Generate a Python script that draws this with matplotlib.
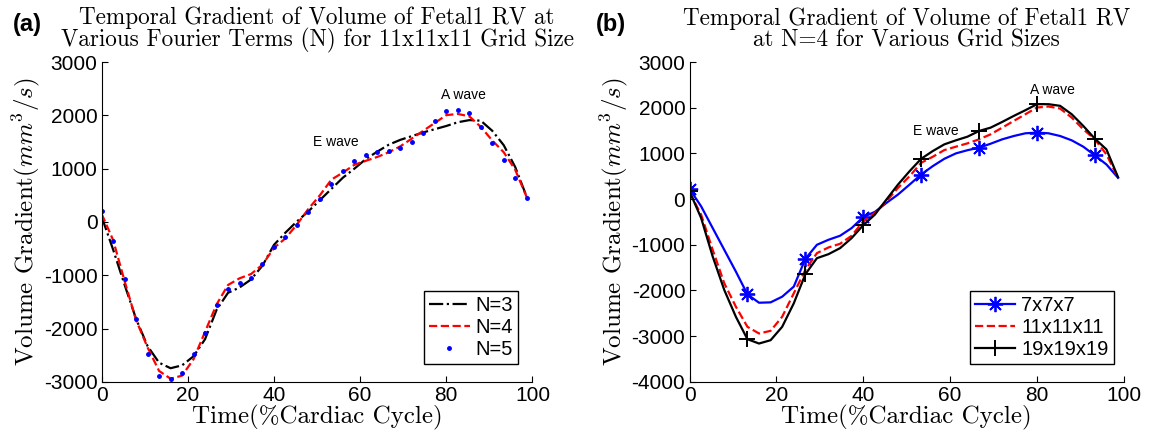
import matplotlib
matplotlib.use('Agg')
import matplotlib.pyplot as plt

plt.rcParams['axes.unicode_minus'] = False
plt.rcParams['mathtext.fontset'] = 'cm'
plt.rcParams['font.family'] = ['Liberation Sans', 'DejaVu Sans']

# zaman ekseni (% kardiyak döngü), 38 kare
time_pct = [0.00, 2.67, 5.33, 8.00, 10.67, 13.33, 16.00, 18.67, 21.33, 24.00,
            26.67, 29.33, 32.00, 34.67, 37.33, 40.00, 42.67, 45.33, 48.00, 50.67,
            53.33, 56.00, 58.67, 61.33, 64.00, 66.67, 69.33, 72.00, 74.67, 77.33,
            80.00, 82.67, 85.33, 88.00, 90.67, 93.33, 96.00, 98.67]

# (a) 11x11x11 ızgara, farklı Fourier terimleri
n3_vals = [100, -520, -1180, -1820, -2330, -2640, -2744, -2690, -2520, -2200,
           -1650, -1330, -1230, -1080, -820, -430, -200, 10, 200, 410,
           620, 830, 1000, 1180, 1320, 1450, 1540, 1610, 1680, 1740,
           1800, 1870, 1910, 1900, 1710, 1440, 1030, 470]
n4_vals = [150, -341, -1110, -1842, -2355, -2795, -2941, -2883, -2575, -2062,
           -1549, -1183, -1058, -978, -802, -487, -307, -48, 245, 501,
           794, 926, 1073, 1147, 1220, 1308, 1418, 1564, 1711, 1857,
           2004, 2026, 1982, 1784, 1528, 1308, 978, 466]
n5_vals = [200, -360, -1075, -1825, -2475, -2890, -2950, -2840, -2475, -2075,
           -1556, -1263, -1150, -1046, -795, -476, -276, -50, 190, 438,
           710, 956, 1144, 1262, 1310, 1338, 1378, 1494, 1677, 1895,
           2080, 2108, 2040, 1790, 1476, 1164, 832, 455]

# (b) N=4, farklı ızgara boyutları
grid7_vals = [224, -158, -634, -1110, -1586, -2084, -2268, -2260, -2136, -1916,
              -1308, -1000, -890, -802, -634, -392, -280, -84, 100, 318,
              538, 721, 882, 1000, 1070, 1125, 1212, 1308, 1381, 1440,
              1455, 1440, 1381, 1286, 1147, 956, 758, 466]
grid11_vals = n4_vals
grid19_vals = [170, -414, -1256, -1989, -2575, -3066, -3161, -3088, -2795, -2282,
               -1645, -1293, -1205, -1073, -853, -570, -341, -11, 318, 611,
               882, 1051, 1198, 1286, 1366, 1491, 1564, 1689, 1821, 1945,
               2077, 2077, 2041, 1857, 1601, 1322, 1088, 480]

serif = ['cmr10', 'DejaVu Serif']

fig = plt.figure(figsize=(11.55, 4.43), dpi=100)
ax1 = fig.add_axes([0.088, 0.138, 0.373, 0.722])
ax2 = fig.add_axes([0.597, 0.138, 0.376, 0.722])

# (a)
ax1.plot(time_pct, n3_vals, 'k-.', lw=1.6, label='N=3')
ax1.plot(time_pct, n4_vals, 'r--', lw=1.6, label='N=4')
ax1.plot(time_pct, n5_vals, 'b.', ms=5, label='N=5')
ax1.set_ylim(-3000, 3000)
ax1.set_yticks(range(-3000, 3001, 1000))
ax1.set_title('Temporal Gradient of Volume of Fetal1 RV at\nVarious Fourier Terms (N) for 11x11x11 Grid Size',
              family=serif, fontsize=16.7, linespacing=0.98, pad=11)
ax1.text(54.3, 1500, 'E wave', ha='center', va='center', fontsize=10)
ax1.text(83.9, 2380, 'A wave', ha='center', va='center', fontsize=10)
ax1.legend(loc='lower right', bbox_to_anchor=(0.99, 0.025), fontsize=14.5,
           fancybox=False, edgecolor='k', framealpha=1, handlelength=2.0,
           borderpad=0.25, labelspacing=0.15, handletextpad=0.3)
fig.text(0.011, 0.93, '(a)', fontsize=17, fontweight='bold')

# (b)
ax2.plot(time_pct, grid7_vals, 'b-', marker=(8, 2, 0), ms=11, mew=1.3,
         markevery=5, lw=1.6, label='7x7x7')
ax2.plot(time_pct, grid11_vals, 'r--', lw=1.6, label='11x11x11')
ax2.plot(time_pct, grid19_vals, 'k-', marker='+', ms=12, mew=1.4, markevery=5,
         lw=1.6, label='19x19x19')
ax2.set_ylim(-4000, 3000)
ax2.set_yticks(range(-4000, 3001, 1000))
ax2.set_title('Temporal Gradient of Volume of Fetal1 RV\nat N=4 for Various Grid Sizes',
              family=serif, fontsize=16.7, linespacing=0.98, pad=11)
ax2.text(56.6, 1490, 'E wave', ha='center', va='center', fontsize=10)
ax2.text(83.5, 2390, 'A wave', ha='center', va='center', fontsize=10)
ax2.legend(loc='lower right', bbox_to_anchor=(1.0, 0.025), fontsize=14.5,
           fancybox=False, edgecolor='k', framealpha=1, handlelength=2.0,
           borderpad=0.25, labelspacing=0.15, handletextpad=0.3)
fig.text(0.516, 0.93, '(b)', fontsize=17, fontweight='bold')

for ax in (ax1, ax2):
    ax.set_xlim(0, 100)
    ax.set_xticks(range(0, 101, 20))
    ax.spines['top'].set_visible(False)
    ax.spines['right'].set_visible(False)
    ax.tick_params(direction='in', labelsize=15, length=4, pad=3)
    ax.set_xlabel('Time(%Cardiac Cycle)', family=serif, fontsize=18, labelpad=0)
    ax.set_ylabel(r'Volume Gradient$(mm^3/s)$', family=serif, fontsize=18, labelpad=1)

fig.savefig('out.png', dpi=100)
